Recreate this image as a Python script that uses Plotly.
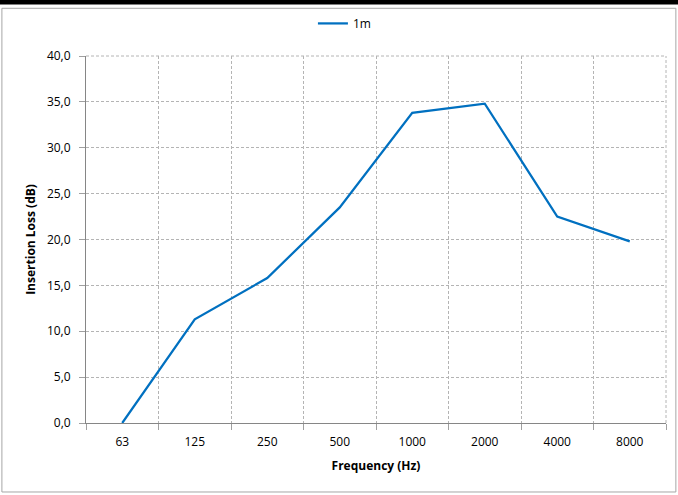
import plotly.graph_objects as go

freqs = ["63", "125", "250", "500", "1000", "2000", "4000", "8000"]
loss_1m = [0.0, 11.3, 15.8, 23.5, 33.8, 34.8, 22.5, 19.8]

fig = go.Figure()
fig.add_trace(go.Scatter(
    x=freqs, y=loss_1m, mode="lines", name="1m",
    line=dict(color="#0070C0", width=2.25),
))

font = "'Open Sans', sans-serif"
grid = "#B4B4B4"
fig.update_layout(
    width=678, height=495,
    margin=dict(l=86, r=12, t=56, b=72, autoexpand=False),
    paper_bgcolor="white", plot_bgcolor="white",
    separators=",.",
    font=dict(family=font, size=12, color="#000000"),
    showlegend=True,
    legend=dict(orientation="h", x=0.508, xref="container", xanchor="center",
                y=0.982, yref="container", yanchor="top", font=dict(size=12),
                bgcolor="rgba(0,0,0,0)", itemwidth=30),
    xaxis=dict(
        type="category", range=[-0.5, 7.5], tickson="boundaries",
        showgrid=True, gridcolor=grid, griddash="3px,2px", gridwidth=1,
        showline=True, linecolor="#868686", linewidth=1,
        ticks="outside", ticklen=6, tickcolor="#A0A0A0",
        ticklabelstandoff=8,
        title=dict(text="<b>Frequency (Hz)</b>", font=dict(size=12), standoff=12),
        tickfont=dict(size=12), automargin=False,
    ),
    yaxis=dict(
        range=[0, 40], dtick=5, tickformat=".1f",
        showgrid=True, gridcolor=grid, griddash="3px,2px", gridwidth=1,
        showline=True, linecolor="#868686", linewidth=1,
        ticks="outside", ticklen=6, tickcolor="#A0A0A0",
        ticklabelstandoff=6,
        zeroline=False,
        title=dict(text="<b>Insertion Loss (dB)</b>", font=dict(size=12), standoff=8),
        tickfont=dict(size=12), automargin=False,
    ),
    shapes=[
        dict(type="rect", xref="paper", yref="paper", x0=-0.145, x1=1.017, y0=-0.188, y1=1.13,
             line=dict(color="#A6A6A6", width=1), layer="below"),
        dict(type="rect", xref="paper", yref="paper", x0=-0.2, x1=1.1, y0=1.14, y1=1.2,
             line=dict(width=0), fillcolor="black", layer="above"),
        dict(type="line", xref="paper", yref="paper", x0=1, x1=1, y0=0, y1=1,
             line=dict(color=grid, width=1, dash="3px,2px"), layer="below"),
        dict(type="line", xref="paper", yref="paper", x0=0, x1=1, y0=1, y1=1,
             line=dict(color=grid, width=1, dash="3px,2px"), layer="below"),
    ],
)

fig.write_html("out.html", config={"displayModeBar": False},
               post_script="document.body.style.margin='0';")
